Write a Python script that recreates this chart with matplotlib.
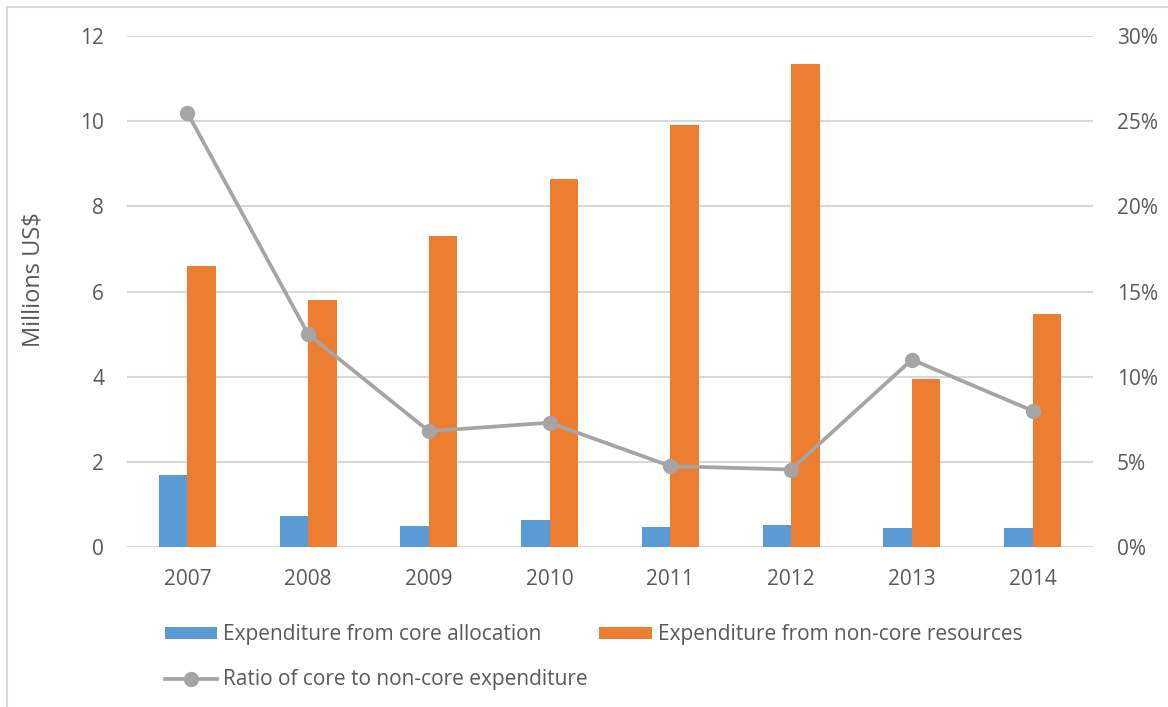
import matplotlib
matplotlib.use("Agg")
import matplotlib.pyplot as plt
import numpy as np
from matplotlib.lines import Line2D
from matplotlib.ticker import FuncFormatter

years = ["2007", "2008", "2009", "2010", "2011", "2012", "2013", "2014"]
core = [1.68, 0.73, 0.50, 0.63, 0.47, 0.52, 0.44, 0.45]
noncore = [6.60, 5.80, 7.30, 8.64, 9.91, 11.34, 3.94, 5.47]
ratio = [25.5, 12.5, 6.8, 7.3, 4.75, 4.55, 11.0, 8.0]

label_core = "Expenditure from core allocation"
label_noncore = "Expenditure from non-core resources"
label_ratio = "Ratio of core to non-core expenditure"

plt.rcParams['font.family'] = ['Open Sans', 'DejaVu Sans']
txt = "#595959"
grid = "#d9d9d9"

fig = plt.figure(figsize=(11.68, 7.07), dpi=100)
ax = fig.add_axes([0.1087, 0.2263, 0.8271, 0.7227])
ax2 = ax.twinx()

x = np.arange(len(years))
w = 0.236
ax.bar(x - w / 2, core, w, color="#5b9bd5", label=label_core, zorder=2)
ax.bar(x + w / 2, noncore, w, color="#ed7d31", label=label_noncore, zorder=2)
ax.set_xlim(-0.5, len(years) - 0.5)
ax.set_ylim(0, 12)
ax.set_yticks(range(0, 13, 2))
ax.set_xticks(x)
ax.set_xticklabels(years)
ax.yaxis.grid(True, color=grid, linewidth=1.5, zorder=0)
ax.set_axisbelow(True)
for s in ax.spines.values():
    s.set_visible(False)
for s in ax2.spines.values():
    s.set_visible(False)
ax.tick_params(axis="both", length=0, colors=txt, labelsize=15)
ax.tick_params(axis="y", pad=16.5)
ax.tick_params(axis="x", pad=16)
ax.set_ylabel("Millions US$", color=txt, fontsize=17)
ax.yaxis.set_label_coords(-0.084, 0.524)

ax2.plot(x, ratio, color="#a5a5a5", linewidth=2.7, marker="o", markersize=10,
         label=label_ratio, zorder=3)
ax2.set_ylim(0, 30)
ax2.set_yticks(range(0, 31, 5))
ax2.yaxis.set_major_formatter(FuncFormatter(lambda v, p: f"{int(v)}%"))
ax2.tick_params(axis="y", length=0, colors=txt, labelsize=15, pad=17)

h1, l1 = ax.get_legend_handles_labels()
h2, l2 = ax2.get_legend_handles_labels()
handles = [h1[0], h2[0], h1[1]]
labels = [l1[0], l2[0], l1[1]]
leg = fig.legend(handles, labels, ncol=2, loc="upper left",
                 bbox_to_anchor=(0.1413, 0.117), frameon=False,
                 fontsize=15, handlelength=2.5, handleheight=0.5,
                 handletextpad=0.3, columnspacing=0.55, labelspacing=1.15,
                 borderaxespad=0, borderpad=0)
for t in leg.get_texts():
    t.set_color(txt)

# chart frame (left and top edges)
fig.add_artist(Line2D([0.006, 0.006], [0.0, 0.990], transform=fig.transFigure,
                      color=grid, linewidth=1.5))
fig.add_artist(Line2D([0.006, 1.0], [0.990, 0.990], transform=fig.transFigure,
                      color=grid, linewidth=1.5))

fig.savefig("out.png", dpi=100, facecolor="white")
